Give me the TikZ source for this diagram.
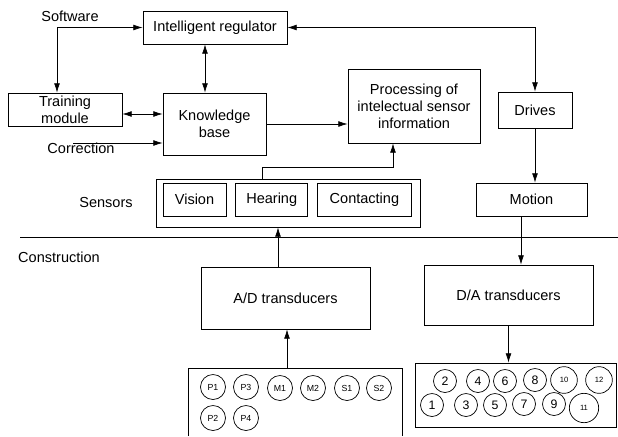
\documentclass[tikz,border=0pt]{standalone}
\usepackage{fontspec}
\setmainfont{Liberation Sans}
\usetikzlibrary{arrows.meta, positioning, calc}
\tikzstyle{every node}=[font=\fontsize{12.4}{14.5}\selectfont]
\tikzstyle{block}=[draw, rectangle, align=center, inner sep=1pt]
\tikzstyle{plug}=[draw, circle, inner sep=0pt, minimum size=0.75cm,
  font=\fontsize{7.5}{8}\selectfont]
\tikzstyle{socket}=[draw, circle, inner sep=0pt, minimum size=0.69cm,
  font=\fontsize{10.5}{11}\selectfont]
\tikzstyle{bigsocket}=[socket, minimum size=0.8cm, font=\fontsize{6.5}{7}\selectfont]
\tikzset{boxsize/.style n args={2}{minimum width=0.03cm*#1, minimum height=0.03cm*#2}}

\begin{document}
\begin{tikzpicture}[>={Latex[length=8pt,width=5pt]}, x=0.03cm, y=-0.03cm,
    line width=0.6pt]
    \useasboundingbox (0,0) rectangle (618,436);
    % upper level
    \node[block, boxsize={144}{33}] (reg) at (215,27.5) {Intelligent regulator};
    \node[block, boxsize={114}{33}] (train) at (65,109.5) {Training\\module};
    \node[block, boxsize={103}{62}] (kb) at (214.5,124) {Knowledge\\base};
    \node[block, boxsize={132}{74}] (proc) at (414,106)
        {Processing of\\intelectual sensor\\information};
    \node[block, boxsize={74}{36}] (drives) at (535,110) {Drives};
    \node (software) at (70,16) {Software};
    \node (corr) at (81,148) {Correction};
    % sensors
    \node[block, boxsize={264}{48}] (sens) at (288,203) {};
    \node[block, boxsize={63}{33}] (vision) at (194.5,199.5) {Vision};
    \node[block, boxsize={72}{33}, right=0.27cm of vision] (hear) {Hearing};
    \node[block, boxsize={94}{33}, right=0.27cm of hear] (contact) {Contacting};
    \node (senslbl) at (106,202) {Sensors};
    \node[block, boxsize={111}{33}] (motion) at (531.5,199.5) {Motion};
    % construction
    \coordinate (divl) at (20,237);
    \coordinate (divr) at (618,237);
    \draw (divl) -- (divr);
    \node (constr) at (59,257) {Construction};
    \node[block, boxsize={169}{62}] (ad) at (285.5,298) {A/D transducers};
    \node[block, boxsize={169}{60}] (da) at (508.5,295) {D/A transducers};
    \node[block, boxsize={201}{64}] (num) at (515.5,395) {};
    \draw (188,436) -- (188,368) -- (402,368) -- (402,436);
    \coordinate (devtop) at (287,368);
    \foreach \n/\x/\y in {P1/213/387, P3/246/387, M1/280/388, M2/313/388,
        S1/347/388, S2/379/388, P2/213/418, P4/246/418}
        \node[plug] (\n) at (\x,\y) {\n};
    \foreach \n/\x/\y in {1/432/405, 2/445/381, 3/466/405, 4/478/381, 5/495/405,
        6/505/381, 7/524/404, 8/535/380, 9/554/404}
        \node[socket] (n\n) at (\x,\y) {\n};
    \node[bigsocket] (n10) at (564,380) {10};
    \node[bigsocket] (n12) at (599,380) {12};
    \node[bigsocket, minimum size=0.88cm] (n11) at (584,408) {11};
    % connections
    \coordinate (soft) at (57,28);
    \draw[<->] (train.north -| soft) |- (reg.west);
    \draw[<->] (reg.east) -| (drives.north);
    \coordinate (rk) at ($(reg.south)+(-10,0)$);
    \draw[<->] (rk) -- (rk |- kb.north);
    \coordinate (tk) at ($(train.east)+(0,4.5)$);
    \draw[<->] (tk) -- (tk -| kb.west);
    \coordinate (corrin) at (73,143);
    \draw[->] (corrin) -- (corrin -| kb.west);
    \draw[->] (kb.east) -- (kb.east -| proc.west);
    \coordinate (sh) at (262,167);
    \coordinate (ps) at ($(proc.south)+(-21,0)$);
    \draw[->] (sens.north -| sh) -- (sh) -| (ps);
    \draw[->] (drives.south) -- (drives.south |- motion.north);
    \coordinate (md) at (521,0);
    \draw[->] (motion.south -| md) -- (da.north -| md);
    \coordinate (as) at (278,0);
    \draw[->] (ad.north -| as) -- (sens.south -| as);
    \draw[->] (devtop) -- (devtop |- ad.south);
    \draw[->] (da.south) -- (da.south |- num.north);
\end{tikzpicture}
\end{document}
